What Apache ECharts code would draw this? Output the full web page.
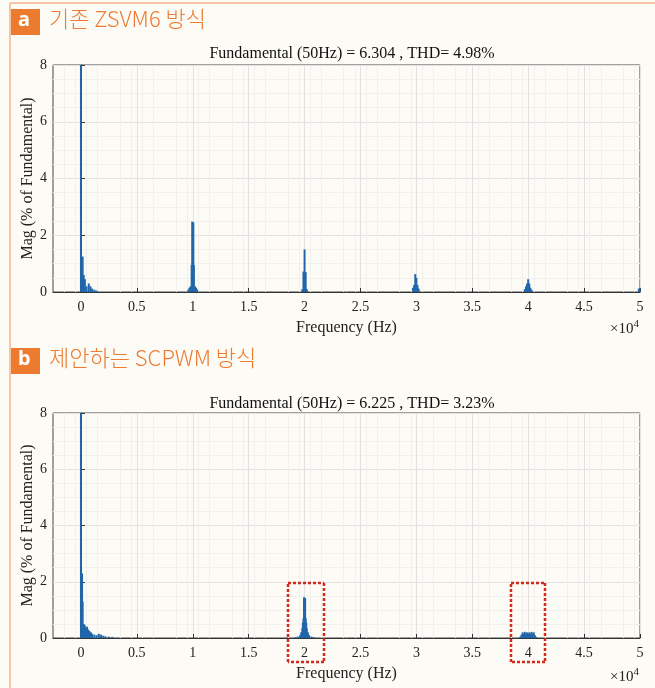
<!DOCTYPE html>
<html>
<head>
<meta charset="utf-8">
<script src="https://cdn.jsdelivr.net/npm/echarts@6/dist/echarts.min.js"></script>
<style>
  html, body { margin: 0; padding: 0; background: #fdfbf5; }
  #chart { width: 655px; height: 688px; }
</style>
</head>
<body>
<div id="chart"></div>
<script>
// frequency in units of 10^4 Hz, magnitude in % of fundamental
var freqA = [0, 0.015, 0.025, 0.035, 0.05, 0.07, 0.085, 0.1, 0.12, 0.14,
  0.96, 0.97, 0.98, 0.99, 0.995, 1.005, 1.01, 1.02, 1.03, 1.04,
  1.98, 1.99, 2.0, 2.01, 2.02,
  2.97, 2.98, 2.99, 3.0, 3.01, 3.02,
  3.97, 3.98, 3.99, 4.0, 4.01, 4.02, 4.03,
  4.99, 5.0];
var magA = [100, 1.25, 0.6, 0.45, 0.2, 0.3, 0.2, 0.12, 0.08, 0.05,
  0.08, 0.15, 0.2, 0.95, 2.48, 2.45, 0.95, 0.2, 0.15, 0.08,
  0.1, 0.72, 1.5, 0.7, 0.1,
  0.15, 0.25, 0.63, 0.5, 0.25, 0.12,
  0.1, 0.2, 0.3, 0.45, 0.3, 0.15, 0.08,
  0.12, 0.15];

var freqB = [0, 0.01, 0.015, 0.025, 0.035, 0.045, 0.055, 0.065, 0.075, 0.09, 0.1,
  0.12, 0.14, 0.16, 0.18, 0.2, 0.22, 0.25, 0.28,
  1.92, 1.94, 1.96, 1.97, 1.98, 1.985, 1.99, 1.995, 2.0, 2.005, 2.01, 2.015,
  2.02, 2.03, 2.04, 2.06, 2.08,
  3.93, 3.94, 3.95, 3.96, 3.97, 3.98, 3.99, 4.0, 4.01, 4.02, 4.03, 4.04,
  4.05, 4.06, 4.07];
var magB = [100, 2.3, 1.3, 0.5, 0.45, 0.35, 0.4, 0.3, 0.25, 0.2, 0.15,
  0.12, 0.1, 0.15, 0.12, 0.08, 0.06, 0.05, 0.04,
  0.03, 0.05, 0.1, 0.2, 0.35, 0.55, 0.7, 1.45, 0.6, 1.42, 0.7, 0.55,
  0.35, 0.2, 0.1, 0.05, 0.03,
  0.05, 0.12, 0.2, 0.15, 0.22, 0.15, 0.2, 0.12, 0.2, 0.15, 0.22, 0.15,
  0.2, 0.1, 0.04];

var xTicks = [0, 0.5, 1, 1.5, 2, 2.5, 3, 3.5, 4, 4.5, 5];
var titleA = 'Fundamental (50Hz) = 6.304 , THD= 4.98%';
var titleB = 'Fundamental (50Hz) = 6.225 , THD= 3.23%';
var headA = '기존 ZSVM6 방식';
var headB = '제안하는 SCPWM 방식';
// highlighted bands in plot b
var boxesB = [[1.85, 2.17], [3.85, 4.15]];

var serif = '"Liberation Serif", "DejaVu Serif", serif';
var kr = '"Noto Sans CJK KR", sans-serif';
var orange = '#ec7a2f';
var barColor = '#2266aa';

function pairs(xs, ys) {
  return xs.map(function (x, i) { return [x, ys[i]]; });
}

function xAxisCfg(idx) {
  return {
    type: 'value', gridIndex: idx, min: -0.25, max: 5, interval: 0.5,
    name: 'Frequency (Hz)', nameLocation: 'middle', nameGap: 28, nameMoveOverlap: false,
    nameTextStyle: { fontFamily: serif, fontSize: 16, color: '#222' },
    axisLine: { onZero: false, lineStyle: { color: '#333' } },
    axisTick: { inside: true, length: 4, customValues: xTicks, lineStyle: { color: '#333' } },
    axisLabel: { customValues: xTicks, margin: 8, fontFamily: serif, fontSize: 14, color: '#222' },
    splitLine: { show: true, lineStyle: { color: '#e2e2e2' } },
    minorSplitLine: { show: true, lineStyle: { color: '#f1f0ec' } },
    minorTick: { show: false, splitNumber: 5 }
  };
}

function yAxisCfg(idx) {
  return {
    type: 'value', gridIndex: idx, min: 0, max: 8, interval: 2,
    name: 'Mag (% of Fundamental)', nameLocation: 'middle', nameGap: 17, nameMoveOverlap: false,
    nameTextStyle: { fontFamily: serif, fontSize: 16, color: '#222' },
    axisLine: { show: true, lineStyle: { color: '#333' } },
    axisTick: { show: true, inside: true, length: 4, lineStyle: { color: '#333' } },
    axisLabel: { margin: 6, fontFamily: serif, fontSize: 14, color: '#222' },
    splitLine: { show: true, lineStyle: { color: '#e2e2e2' } },
    minorSplitLine: { show: true, lineStyle: { color: '#f1f0ec' } },
    minorTick: { show: false, splitNumber: 4 }
  };
}

function header(y, letter, text) {
  return [
    { type: 'rect', left: 11, top: y, shape: { width: 29, height: 26 }, style: { fill: orange } },
    { type: 'text', left: 18, top: y + 1, style: { text: letter, fill: '#fff', font: 'bold 20px "Noto Sans", sans-serif' } },
    { type: 'text', left: 49, top: y - 1, style: { text: text, fill: orange, font: '300 22px ' + kr } }
  ];
}

function xScale(top) {
  return {
    type: 'text', right: 16, top: top,
    style: {
      text: '×10{s|4}', fill: '#222', font: '15px ' + serif,
      rich: { s: { fontSize: 11, fontFamily: serif, fill: '#222', padding: [0, 0, 9, 0] } }
    }
  };
}

var chart = echarts.init(document.getElementById('chart'));

chart.setOption({
  backgroundColor: '#fdfbf5',
  animation: false,
  title: [
    { text: titleA, left: 347, top: 41, textAlign: 'center',
      textStyle: { fontFamily: serif, fontSize: 16, fontWeight: 'normal', color: '#111' } },
    { text: titleB, left: 347, top: 391, textAlign: 'center',
      textStyle: { fontFamily: serif, fontSize: 16, fontWeight: 'normal', color: '#111' } }
  ],
  grid: [
    { left: 53, top: 65, width: 587, height: 227, show: true, borderColor: '#444', borderWidth: 1, backgroundColor: 'transparent' },
    { left: 53, top: 413, width: 587, height: 225, show: true, borderColor: '#444', borderWidth: 1, backgroundColor: 'transparent' }
  ],
  xAxis: [xAxisCfg(0), xAxisCfg(1)],
  yAxis: [yAxisCfg(0), yAxisCfg(1)],
  series: [
    { type: 'bar', xAxisIndex: 0, yAxisIndex: 0, barWidth: 2, clip: true,
      itemStyle: { color: barColor }, data: pairs(freqA, magA) },
    { type: 'bar', xAxisIndex: 1, yAxisIndex: 1, barWidth: 2, clip: true,
      itemStyle: { color: barColor }, data: pairs(freqB, magB) }
  ],
  graphic: [
    { type: 'line', shape: { x1: 10, y1: 3, x2: 655, y2: 3 }, style: { stroke: '#f3b48a', lineWidth: 1.5 } },
    { type: 'line', shape: { x1: 10, y1: 3, x2: 10, y2: 688 }, style: { stroke: '#f3b48a', lineWidth: 1.5 } }
  ]
    .concat(header(9, 'a', headA))
    .concat(header(348, 'b', headB))
    .concat([xScale(319), xScale(667)])
});

// dotted annotation boxes, positioned from data coordinates
var extra = [];
boxesB.forEach(function (b) {
  var p0 = chart.convertToPixel({ gridIndex: 1 }, [b[0], 1.95]);
  var p1 = chart.convertToPixel({ gridIndex: 1 }, [b[1], 0]);
  var x0 = Math.round(p0[0]), y0 = Math.round(p0[1]);
  var x1 = Math.round(p1[0]), y1 = Math.round(p1[1]) + 24;
  [[x0, y0, x1, y0], [x1, y0, x1, y1], [x1, y1, x0, y1], [x0, y1, x0, y0]].forEach(function (s) {
    extra.push({
      type: 'line', z: 10,
      shape: { x1: s[0], y1: s[1], x2: s[2], y2: s[3] },
      style: { stroke: '#d42a1e', lineWidth: 2.5, lineDash: [3, 2] }
    });
  });
});
var opt = chart.getOption();
chart.setOption({ graphic: opt.graphic[0].elements.concat(extra) });
</script>
</body>
</html>
